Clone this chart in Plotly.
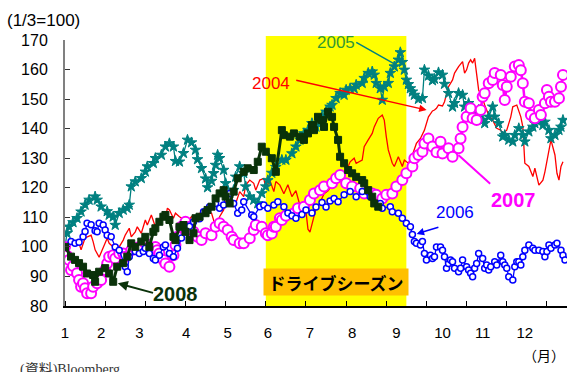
import plotly.graph_objects as go

# Trading-day index (0 = Jan 3) and price index (Jan 3 = 100) for each year
days_2004 = [0, 3, 5, 7, 8, 10, 11, 13, 14, 15,
             17, 19, 21, 22, 24, 25, 27, 29, 30, 32,
             33, 35, 36, 38, 40, 41, 43, 45, 46, 48,
             50, 51, 52, 54, 55, 57, 60, 61, 63, 65,
             67, 69, 70, 73, 75, 77, 79, 80, 82, 84,
             85, 87, 89, 90, 92, 94, 95, 97, 99, 100,
             102, 104, 105, 107, 109, 111, 113, 115, 117, 118,
             120, 121, 122, 124, 125, 127, 129, 131, 133, 135,
             137, 139, 141, 142, 144, 145, 148, 149, 151, 153,
             154, 156, 158, 159, 160, 161, 163, 164, 166, 168,
             169, 171, 173, 174, 175, 177, 178, 179, 181, 183,
             184, 185, 186, 188, 189, 191, 193, 194, 196, 198,
             199, 200, 201, 202, 203, 204, 206, 208, 209, 211,
             213, 215, 217, 218, 220, 222, 223, 225, 227, 228,
             229, 231, 233, 234, 236, 238, 239, 241, 242, 244,
             245, 246, 247, 248]
idx_2004 = [100, 101.2, 101.8, 101.2, 99, 103, 103.4, 104, 101.8, 99,
            96.5, 99.8, 102.9, 101.2, 100, 98.9, 100, 102.3, 104, 106.3,
            103.4, 105.1, 106.8, 104.6, 109.1, 107.4, 110.8, 106.8, 108.5, 109.1,
            109.7, 113.1, 112.5, 109.7, 111.4, 110.2, 109.1, 108.5, 110.2, 110.2,
            111.4, 110.8, 111.9, 111.4, 106.8, 110.2, 112.5, 115.3, 115, 113.6,
            114.7, 118.7, 117, 120.9, 122.6, 121.5, 119.2, 122.6, 123.2, 119.8,
            122.6, 118.7, 122.1, 120.9, 118, 121, 117, 119, 114, 110,
            112, 106, 105, 110, 113, 115, 118, 119, 121, 123,
            125, 124, 127, 128.8, 130, 128.3, 129.4, 133.9, 136.2, 138.4,
            140.6, 143.5, 144.6, 142.9, 137.3, 132.8, 128.3, 127.2, 130.5, 127.2,
            129.4, 128.3, 131.1, 133.4, 135, 136.7, 138.4, 139.5, 144, 146,
            146.3, 146.9, 148, 147.7, 149.1, 154.2, 156.5, 158.8, 161, 162.7,
            158.8, 159.9, 162.2, 163.3, 162.2, 163.8, 153.1, 150.3, 148, 144.6,
            142.9, 140.1, 139.5, 138.4, 139.5, 144, 147.4, 148, 144, 140.6,
            128.3, 127.2, 123.8, 126.6, 120.9, 122.6, 125.4, 133.4, 136.2, 131.1,
            124.9, 122.6, 127.2, 128.8]

days_2005 = [0, 1, 2, 4, 6, 8, 10, 12, 15, 16,
             18, 21, 22, 24, 25, 27, 29, 31, 32, 33,
             35, 38, 40, 41, 44, 45, 48, 50, 52, 54,
             55, 57, 59, 61, 63, 65, 66, 68, 70, 71,
             73, 74, 75, 76, 77, 79, 80, 82, 84, 85,
             87, 89, 90, 92, 94, 96, 98, 100, 101, 103,
             105, 108, 110, 113, 115, 117, 119, 121, 123, 125,
             127, 128, 130, 132, 133, 135, 137, 139, 140, 142,
             144, 145, 148, 149, 151, 153, 154, 155, 157, 158,
             159, 161, 162, 164, 166, 167, 168, 169, 170, 171,
             172, 173, 174, 176, 178, 179, 181, 183, 184, 186,
             188, 189, 191, 193, 194, 196, 198, 199, 201, 203,
             204, 206, 208, 209, 211, 213, 214, 216, 218, 219,
             221, 223, 224, 226, 228, 229, 231, 233, 234, 236,
             238, 239, 241, 242, 244, 246, 247, 248]
idx_2005 = [100, 104.6, 106.8, 108.3, 109.7, 111.9, 114.2, 115.9, 117, 115.9,
            113.6, 112, 110.8, 110.2, 107.4, 111.4, 112.5, 113.1, 114.2, 120.4,
            122.1, 123.2, 125.4, 127.2, 128.3, 130, 131.1, 133.9, 135, 133.9,
            129, 128.8, 131.7, 136.2, 135.3, 132.8, 129.6, 126.6, 123.1, 120.1,
            122.3, 124.9, 127.7, 131.1, 130, 126, 121.5, 118.1, 119.2, 123.7,
            127.2, 124.9, 120.4, 117, 115.9, 114.7, 118.1, 120.4, 122.5, 125,
            127, 129.4, 129.4, 131.6, 133.9, 136.2, 138.4, 139.5, 141.8, 140.6,
            142.3, 144, 145.7, 147.4, 148, 150.3, 152, 151.4, 153.1, 153.6,
            153.6, 154.8, 155.4, 157.1, 158.8, 159.3, 158.2, 155.4, 153.6, 149.7,
            154.2, 155.4, 158.8, 161, 163.3, 165.8, 162.5, 159.9, 156.5, 155,
            153.6, 152.5, 151.4, 150, 150.3, 159.9, 157.9, 156.3, 156.8, 159,
            158.2, 155.1, 152, 147.4, 148.6, 152, 151.4, 147.4, 148.6, 145.7,
            144.6, 146.3, 142.9, 141.8, 144, 147.4, 144, 141.8, 137.3, 137.8,
            136.2, 135.6, 137.8, 140.1, 137.8, 135.6, 139, 140.6, 141.8, 142.9,
            141.2, 142.3, 139.5, 136.7, 137.8, 139.5, 140.6, 142.9]

days_2006 = [0, 3, 5, 7, 9, 10, 11, 13, 15, 16,
             17, 19, 20, 21, 23, 25, 27, 30, 31, 32,
             35, 37, 39, 40, 42, 44, 45, 47, 49, 50,
             52, 54, 56, 58, 60, 62, 64, 67, 69, 72,
             75, 77, 79, 80, 82, 84, 86, 88, 89, 93,
             94, 97, 99, 101, 104, 106, 109, 111, 113, 115,
             118, 120, 123, 125, 128, 130, 132, 134, 136, 139,
             142, 145, 148, 152, 157, 158, 162, 163, 166, 168,
             170, 172, 173, 174, 175, 177, 178, 179, 180, 182,
             183, 184, 185, 187, 188, 189, 190, 191, 192, 193,
             194, 196, 197, 198, 200, 201, 202, 203, 204, 205,
             206, 208, 209, 210, 211, 212, 214, 215, 217, 218,
             219, 220, 221, 223, 224, 225, 226, 227, 228, 229,
             231, 233, 234, 236, 238, 239, 240, 241, 242, 244,
             245, 247, 248, 249]
idx_2006 = [100, 101.8, 101.2, 101.6, 103.4, 105.2, 108, 107.5, 105.5, 105.1,
            108, 107.4, 105.7, 103.9, 103.4, 100, 98.9, 93.3, 91.6, 96.7,
            98.4, 97.8, 98.4, 99.5, 97.8, 96.1, 95.6, 97.2, 100, 100.6,
            97.8, 96.7, 99.5, 103, 105.5, 107, 108.5, 109.5, 111.9, 113.6,
            114.7, 113.1, 114.2, 117.6, 118.1, 114.7, 111.4, 112.5, 115.3, 110.8,
            110.2, 113.6, 114.2, 113.1, 114.2, 115.3, 113.6, 111.5, 110.5, 109.7,
            111, 112.5, 111.5, 113.5, 115, 113.5, 115.5, 116.4, 115.3, 117.6,
            118.7, 117, 118.7, 117, 114.7, 113.1, 113.6, 111.9, 111.4, 109.7,
            108, 106.8, 104.2, 101.8, 101.2, 100.6, 101.8, 97.8, 95.6, 97.2,
            96.1, 96.7, 100, 100, 98.9, 96.7, 92.8, 94.4, 95.6, 95,
            92.8, 91.6, 92.8, 95.6, 93.3, 92.2, 91.1, 89.9, 92.8, 94.4,
            97.8, 96.1, 92.8, 93.9, 92.2, 93.3, 95, 93.9, 97.2, 95,
            93.9, 92.8, 89.9, 88.8, 93.3, 95, 95, 93.9, 96.7, 98.9,
            100.6, 99.5, 98.9, 98.9, 98.4, 96.7, 98.4, 100.6, 99.5, 100.6,
            101.2, 98.9, 97.2, 95.6]

days_2007 = [0, 1, 2, 3, 4, 6, 7, 8, 9, 10,
             11, 13, 14, 16, 18, 20, 21, 22, 24, 25,
             27, 29, 30, 33, 35, 37, 40, 42, 45, 46,
             47, 49, 50, 52, 54, 55, 56, 58, 60, 62,
             64, 66, 68, 70, 73, 75, 77, 79, 81, 83,
             84, 87, 89, 92, 94, 95, 98, 100, 101, 103,
             104, 105, 107, 108, 110, 114, 116, 119, 122, 124,
             127, 129, 133, 135, 137, 140, 143, 147, 149, 153,
             155, 158, 160, 163, 165, 168, 170, 173, 174, 176,
             178, 179, 181, 183, 185, 187, 188, 191, 193, 196,
             197, 198, 200, 202, 203, 205, 207, 208, 209, 211,
             213, 214, 217, 218, 219, 220, 222, 224, 226, 227,
             228, 229, 231, 232, 234, 236, 237, 239, 240, 241,
             242, 244, 246, 247, 248]
idx_2007 = [100, 97, 95.6, 92.2, 93.5, 91.1, 88.8, 86.5, 87.7, 86,
            84.3, 84.3, 86.5, 87.7, 88.8, 92.2, 94.4, 96.7, 97.2, 96.1,
            97.8, 97.8, 96.7, 98.9, 99.5, 100, 101.2, 100, 100, 98.9,
            97.8, 95.6, 94.4, 93.3, 97.2, 100.6, 103.4, 106.8, 108.5, 106.8,
            105.1, 103.4, 102.3, 104.6, 103.9, 106.8, 108, 106.8, 105.7, 103.4,
            102.3, 101.2, 101.2, 102.9, 105.7, 107.4, 106.8, 104.6, 103.9, 104.5,
            106.8, 106.8, 109.7, 109.1, 110.5, 111.4, 113.1, 113.6, 115.9, 118.1,
            119.2, 120.4, 121.5, 123.2, 124.3, 121.5, 120.4, 119.8, 118.1, 118.1,
            117.6, 116.4, 117.6, 118.1, 120.4, 122.6, 124.9, 127.2, 130, 131.1,
            132.2, 135, 136.7, 134, 132, 135.6, 131.6, 133.4, 130.5, 133.4,
            136.7, 140.6, 144, 146.9, 143.5, 142.9, 146.3, 150.8, 152, 155.4,
            156.5, 158.8, 158.2, 154.8, 149.7, 154.2, 157.6, 161, 161.5, 159.8,
            155.4, 149.1, 148.6, 144.6, 143.5, 146.3, 144.6, 148.6, 153.1, 150.8,
            149.1, 149.1, 150.3, 154.2, 158.2]

days_2008 = [0, 3, 5, 7, 9, 11, 14, 15, 17, 20,
             22, 24, 26, 29, 31, 33, 35, 38, 40, 42,
             44, 45, 47, 49, 50, 52, 54, 55, 57, 59,
             60, 62, 64, 65, 67, 70, 71, 73, 75, 77,
             79, 80, 82, 84, 86, 89, 91, 94, 96, 98,
             100, 103, 105, 108, 109, 112, 114, 117, 119, 121,
             123, 124, 126, 128, 129, 131, 133, 134, 136, 137,
             139, 141, 143, 145, 148, 149, 151, 153, 154, 156]
idx_2008 = [100, 96.7, 95.6, 94.5, 93.3, 91, 90.5, 88.2, 91.6, 92.8,
            91, 88.2, 93.3, 94.5, 96.7, 101.2, 100, 101.8, 103.4, 100,
            105.1, 106.3, 108.5, 110.2, 110.8, 109.1, 103.4, 102.3, 106.8, 107.4,
            105.1, 102.3, 104.6, 109.7, 110.2, 111.4, 112.5, 113.6, 116.4, 118.1,
            119.2, 117, 114.7, 118.7, 123.2, 125.4, 126.6, 126, 128.8, 133.9,
            132.2, 130, 125.4, 139.5, 137.8, 137.3, 138.4, 137.3, 136.2, 138.4,
            141.2, 139.5, 144, 142.9, 140.6, 145.7, 144, 140.6, 136.2, 130.5,
            128.3, 126, 124.9, 123.7, 122.6, 121.5, 119.2, 117, 114.7, 113.6]

# Axis labelling: month labels sit at each month's first trading day,
# tick marks every 20 trading days
month_labels = ["1", "2", "3", "4", "5", "6", "7", "8", "9", "10", "11", "12"]
month_pos = [0, 18, 37, 60.3, 81, 101, 122, 143, 165, 188, 208, 229]
y_ticks = [80, 90, 100, 110, 120, 130, 140, 150, 160, 170]
drive_season = (100, 170)   # trading-day span of the driving season

SANS = "Liberation Sans, Arial, sans-serif"
JP = "Noto Sans CJK JP, sans-serif"

fig = go.Figure()

fig.add_trace(go.Scatter(
    x=days_2004, y=idx_2004, mode="lines", name="2004",
    line=dict(color="#FF0000", width=1.3)))
fig.add_trace(go.Scatter(
    x=days_2005, y=idx_2005, mode="lines+markers", name="2005",
    line=dict(color="#008080", width=1.3),
    marker=dict(symbol="star", size=8, color="#008080",
                line=dict(color="#008080", width=1))))
fig.add_trace(go.Scatter(
    x=days_2007, y=idx_2007, mode="lines+markers", name="2007",
    line=dict(color="#FF00FF", width=2.5),
    marker=dict(symbol="circle", size=10, color="white",
                line=dict(color="#FF00FF", width=2))))
fig.add_trace(go.Scatter(
    x=days_2006, y=idx_2006, mode="lines+markers", name="2006",
    line=dict(color="#0000FF", width=1.3),
    marker=dict(symbol="circle", size=6, color="white",
                line=dict(color="#0000FF", width=1.5))))
fig.add_trace(go.Scatter(
    x=days_2008, y=idx_2008, mode="lines+markers", name="2008",
    line=dict(color="#0A320A", width=3),
    marker=dict(symbol="square", size=7, color="#0A320A",
                line=dict(color="#0A320A", width=1))))

# Driving-season band
fig.add_shape(type="rect", xref="x", yref="paper",
              x0=drive_season[0], x1=drive_season[1], y0=0, y1=1.015,
              fillcolor="#FFFF00", line=dict(width=0), layer="below")

annotations = [
    # driving season label
    dict(x=(drive_season[0] + drive_season[1]) / 2, y=88.2, xref="x", yref="y",
         text="<b>ドライブシーズン</b>", showarrow=False,
         font=dict(family=JP, size=17, color="black"),
         bgcolor="#FFC000", width=144, height=26, borderpad=0),
    # year labels
    dict(x=134.9, y=169.3, text="2005", font=dict(family=SANS, size=17, color="#339933")),
    dict(x=102.4, y=155.4, text="2004", font=dict(family=SANS, size=17, color="#FF0000")),
    dict(x=223.6, y=115.9, text="<b>2007</b>", font=dict(family=SANS, size=20, color="#FF00FF")),
    dict(x=194.2, y=111.5, text="2006", font=dict(family=SANS, size=17, color="#0000FF")),
    dict(x=55.1, y=84.1, text="<b>2008</b>", font=dict(family=SANS, size=20, color="#0A320A")),
]
for a in annotations[1:]:
    a.update(xref="x", yref="y", showarrow=False)

# leader lines / arrows from labels to the series
leaders = [
    ((144.3, 169.5), (165.1, 161.5), "#008080", 1.5, 0),
    ((114.4, 156.5), (180.1, 146.3), "#FF0000", 1.5, 2),
    ((212.5, 120.9), (195.9, 131.1), "#FF00FF", 2, 0),
    ((186.7, 106.8), (175.1, 104.4), "#0000FF", 1.5, 2),
    ((44.6, 84.3), (26.3, 87.7), "#0A320A", 2, 2),
]
for (tx, ty), (hx, hy), col, w, head in leaders:
    annotations.append(dict(
        x=hx, y=hy, ax=tx, ay=ty, xref="x", yref="y", axref="x", ayref="y",
        showarrow=True, arrowhead=head, arrowsize=1, arrowwidth=w,
        arrowcolor=col, standoff=0, startstandoff=0,
        font=dict(size=1)))

# titles and notes
annotations += [
    dict(x=0.482, y=1.137, xref="paper", yref="paper", yanchor="bottom",
         text="<b>【 米国ガソリン価格の年間推移 】</b>", showarrow=False,
         font=dict(family=JP, size=28, color="black")),
    dict(x=-0.1195, y=1.075, xref="paper", yref="paper", xanchor="left",
         yanchor="middle", text="(1/3=100)", showarrow=False,
         font=dict(family=SANS, size=17, color="black")),
    dict(x=1.0, y=-0.184, xref="paper", yref="paper", xanchor="right",
         yanchor="middle", text="（月）", showarrow=False,
         font=dict(family=JP, size=14, color="black")),
    dict(x=-0.0936, y=-0.203, xref="paper", yref="paper", xanchor="left",
         yanchor="top", text="(資料)Bloomberg", showarrow=False,
         font=dict(family="Liberation Serif, Noto Sans CJK JP, serif",
                   size=14, color="#333333")),
]

fig.update_layout(
    width=571, height=372,
    margin=dict(l=65, r=4, t=40, b=66),
    paper_bgcolor="white", plot_bgcolor="white",
    showlegend=False,
    annotations=annotations,
    xaxis=dict(range=[0, 250], tickmode="array", tickvals=month_pos,
               ticktext=month_labels, ticks="", ticklabelstandoff=12,
               tickfont=dict(family=SANS, size=15, color="black"),
               minor=dict(tick0=0, dtick=20, ticks="inside", ticklen=5,
                          tickcolor="black", tickwidth=1, showgrid=False),
               showline=True, linecolor="black", linewidth=2,
               showgrid=False, zeroline=False),
    yaxis=dict(range=[80, 170], tickmode="array", tickvals=y_ticks,
               ticks="inside", ticklen=5, tickcolor="#333333", showline=True,
               linecolor="#808080", linewidth=2, showgrid=False, zeroline=False,
               ticklabelstandoff=12,
               tickfont=dict(family=SANS, size=16, color="black")),
)

fig.write_html("out.html")
